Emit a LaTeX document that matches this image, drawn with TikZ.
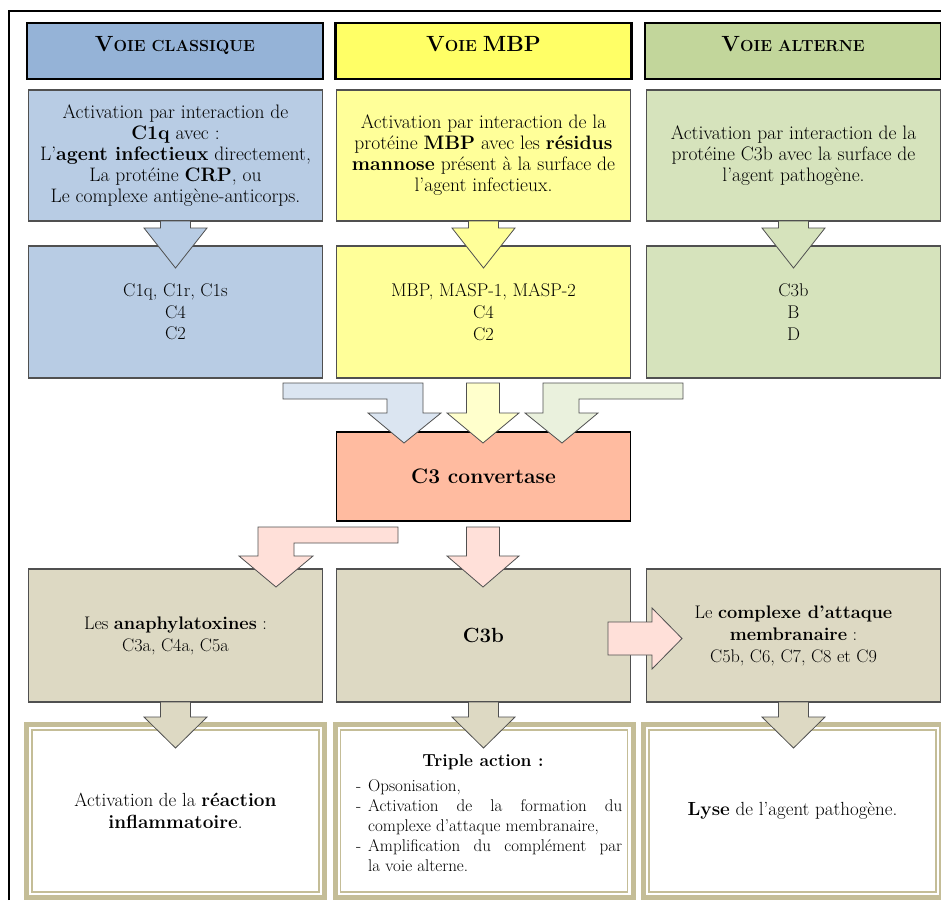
\documentclass[tikz,border=0pt]{standalone}
\usepackage{tikz}
\usetikzlibrary{calc}

\definecolor{bleuT}{RGB}{149,179,215}
\definecolor{bleuC}{RGB}{184,204,228}
\definecolor{bleuF}{RGB}{219,229,241}
\definecolor{jauneT}{RGB}{255,255,102}
\definecolor{jauneC}{RGB}{255,255,153}
\definecolor{jauneF}{RGB}{255,255,204}
\definecolor{vertT}{RGB}{194,214,155}
\definecolor{vertC}{RGB}{214,227,188}
\definecolor{vertF}{RGB}{234,241,221}
\definecolor{saumon}{RGB}{255,187,160}
\definecolor{rose}{RGB}{255,224,217}
\definecolor{beige}{RGB}{221,217,195}
\definecolor{beigeF}{RGB}{196,189,151}
\definecolor{bord}{RGB}{80,80,80}

% fleche large vers le bas : depart, pointe, longueur de la tete, couleur
\newcommand{\flechebas}[4]{%
  \draw[fleche, fill=#4] ($(#1)+(-15,0)$) -- ($(#2)+(-15,-#3)$) -- ($(#2)+(-31.5,-#3)$) -- (#2)
    -- ($(#2)+(31.5,-#3)$) -- ($(#2)+(15,-#3)$) -- ($(#1)+(15,0)$) -- cycle;}

\begin{document}
\begin{tikzpicture}[x=1pt, y=-1pt,
    entete/.style={draw=black, line width=2.5pt, minimum width=296pt, minimum height=56pt, inner sep=0pt, outer sep=0pt, font=\bfseries},
    boite/.style={draw=bord, line width=1.2pt, minimum width=294pt, inner sep=0pt, outer sep=0pt, align=center, font=\fontsize{19.5}{21}\selectfont},
    cadre/.style={draw=beigeF, line width=5pt, fill=white, minimum width=298pt, minimum height=173pt, inner sep=0pt, outer sep=0pt, align=center, font=\fontsize{19}{22}\selectfont},
    fleche/.style={draw=bord, line width=0.8pt},
    titre/.style={font=\bfseries\fontsize{21}{24}\selectfont}
  ]
  \useasboundingbox (0,0) rectangle (941,900);
  \fill[white] (0,0) rectangle (941,900);
  % cadre de la page
  \draw[line width=1.2pt] (9,900) -- (9,11) -- (941,11);

  % les trois voies
  \node[entete, fill=bleuT] (tA) at (175,51) {\smash{\fontsize{22}{22}\selectfont V\fontsize{16}{16}\selectfont OIE CLASSIQUE}};
  \node[entete, fill=jauneT] (tB) at (483.5,51) {\smash{\fontsize{22}{22}\selectfont V\fontsize{16}{16}\selectfont OIE \fontsize{22}{22}\selectfont MBP}};
  \node[entete, fill=vertT] (tC) at (793,51) {\smash{\fontsize{22}{22}\selectfont V\fontsize{16}{16}\selectfont OIE ALTERNE}};

  % activation
  \node[boite, fill=bleuC, minimum height=131pt] (dA) at (175.5,155.5) {Activation par interaction de\\ \textbf{C1q} avec :\\ L'\textbf{agent infectieux} directement,\\ La protéine \textbf{CRP}, ou\\ Le complexe antigène-anticorps.};
  \node[boite, fill=jauneC, minimum height=131pt] (dB) at (483.5,155.5) {Activation par interaction de la\\ protéine \textbf{MBP} avec les \textbf{résidus}\\ \textbf{mannose} présent à la surface de\\ l'agent infectieux.};
  \node[boite, fill=vertC, minimum height=131pt] (dC) at (793.5,155.5) {Activation par interaction de la\\ protéine C3b avec la surface de\\ l'agent pathogène.};

  % composants
  \node[boite, fill=bleuC, minimum height=132pt, font=\fontsize{18.4}{21.7}\selectfont] (cA) at (175.5,312) {C1q, C1r, C1s\\ C4\\ C2};
  \node[boite, fill=jauneC, minimum height=132pt, font=\fontsize{18.4}{21.7}\selectfont] (cB) at (483.5,312) {MBP, MASP-1, MASP-2\\ C4\\ C2};
  \node[boite, fill=vertC, minimum height=132pt, font=\fontsize{18.4}{21.7}\selectfont] (cC) at (793.5,312) {C3b\\ B\\ D};

  % C3 convertase
  \node[boite, draw=black, line width=1.8pt, fill=saumon, minimum height=89pt, titre] (conv) at (483.5,476.5) {C3 convertase};

  % produits
  \node[boite, fill=beige, minimum height=133pt, font=\fontsize{18.2}{22}\selectfont] (pA) at (175.5,635.5) {Les \textbf{anaphylatoxines} :\\ C3a, C4a, C5a};
  \node[boite, fill=beige, minimum height=133pt, titre, font=\bfseries\fontsize{20.5}{24}\selectfont] (pB) at (483.5,635.5) {C3b};
  \node[boite, fill=beige, minimum height=133pt, font=\fontsize{18.2}{22}\selectfont] (pC) at (793.5,635.5) {Le \textbf{complexe d'attaque}\\ \textbf{membranaire} :\\ C5b, C6, C7, C8 et C9};

  % effets
  \node[cadre] (eA) at (175.5,811) {Activation de la \textbf{réaction}\\ \textbf{inflammatoire}.};
  \node[cadre] (eB) at (484,811) {};
  \node[cadre] (eC) at (792.5,811) {\textbf{Lyse} de l'agent pathogène.};
  \draw[beigeF, line width=1.5pt] ($(eA.north west)+(5.5,5.5)$) rectangle ($(eA.south east)+(-5.5,-5.5)$);
  \draw[beigeF, line width=1.5pt] ($(eB.north west)+(5.5,5.5)$) rectangle ($(eB.south east)+(-5.5,-5.5)$);
  \draw[beigeF, line width=1.5pt] ($(eC.north west)+(5.5,5.5)$) rectangle ($(eC.south east)+(-5.5,-5.5)$);
  \node[font=\bfseries\fontsize{17.4}{20}\selectfont] (triple) at (483,762) {Triple action :};
  \node[anchor=north west, text width=266pt, align=justify, inner sep=0pt, font=\fontsize{17}{20}\selectfont] (liste) at (356,779)
    {\noindent\hangindent=12pt\makebox[12pt][l]{-}Opsonisation,\par
     \noindent\hangindent=12pt\makebox[12pt][l]{-}Activation de la formation du\linebreak complexe d'attaque membranaire,\par
     \noindent\hangindent=12pt\makebox[12pt][l]{-}Amplification du complément par\linebreak la voie alterne.\par};

  % fleches activation -> composants
  \coordinate (bA) at ($(dA.south)+(0,47)$);
  \coordinate (bB) at ($(dB.south)+(0,47)$);
  \coordinate (bC) at ($(dC.south)+(0,47)$);
  \flechebas{dA.south}{bA}{40}{bleuC}
  \flechebas{dB.south}{bB}{40}{jauneC}
  \flechebas{dC.south}{bC}{40}{vertC}

  % fleches vers la C3 convertase
  \draw[fleche, fill=bleuF] (283,383) -- (423,383) -- (423,413) -- (441,413) -- (404,443) -- (368,413) -- (387,413) -- (387,399) -- (283,399) -- cycle;
  \draw[fleche, fill=jauneF] (466.5,383) -- (499.5,383) -- (499.5,413) -- (519,413) -- (483,443) -- (447,413) -- (466.5,413) -- cycle;
  \draw[fleche, fill=vertF] (683,383) -- (543,383) -- (543,413) -- (525,413) -- (562,443) -- (598,413) -- (579,413) -- (579,399) -- (683,399) -- cycle;

  % fleches depuis la C3 convertase
  \draw[fleche, fill=rose] (398,527) -- (258,527) -- (258,556) -- (239,556) -- (276,587) -- (313,556) -- (294,556) -- (294,543) -- (398,543) -- cycle;
  \draw[fleche, fill=rose] (466.5,527) -- (466.5,556) -- (447,556) -- (483,587) -- (519,556) -- (499.5,556) -- (499.5,527) -- cycle;
  \draw[fleche, fill=rose] (608,622) -- (652,622) -- (652,608) -- (682,638.5) -- (652,669) -- (652,655) -- (608,655) -- cycle;

  % fleches produits -> effets
  \coordinate (fA) at ($(pA.south)+(0,46)$);
  \coordinate (fB) at ($(pB.south)+(0,46)$);
  \coordinate (fC) at ($(pC.south)+(0,46)$);
  \flechebas{pA.south}{fA}{31}{beige}
  \flechebas{pB.south}{fB}{31}{beige}
  \flechebas{pC.south}{fC}{31}{beige}
\end{tikzpicture}
\end{document}
